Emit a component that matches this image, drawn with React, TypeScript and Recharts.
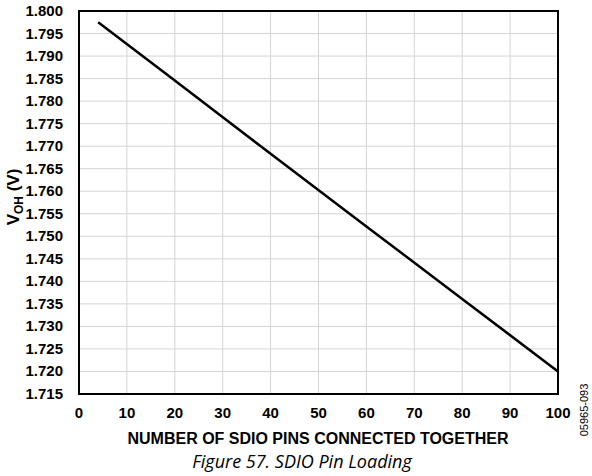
import React from 'react';
import {
  LineChart,
  Line,
  XAxis,
  YAxis,
  CartesianGrid,
  ReferenceArea,
} from 'recharts';

// pins connected together vs VOH
const pinCounts = [4, 20, 40, 60, 80, 100];
const vohValues = [1.7975, 1.7846, 1.7683, 1.7522, 1.7361, 1.72];

const xTicks = [0, 10, 20, 30, 40, 50, 60, 70, 80, 90, 100];
const yTicks = [
  1.715, 1.72, 1.725, 1.73, 1.735, 1.74, 1.745, 1.75, 1.755, 1.76,
  1.765, 1.77, 1.775, 1.78, 1.785, 1.79, 1.795, 1.8,
];

const xTitle = 'NUMBER OF SDIO PINS CONNECTED TOGETHER';
const caption = 'Figure 57. SDIO Pin Loading';
const figureId = '05965-093';

const data = pinCounts.map((n, i) => ({ pins: n, voh: vohValues[i] }));

const FONT = 'Liberation Sans, Arial, sans-serif';

const XTick = ({ x, y, payload }: any) => (
  <text
    x={x}
    y={y + 16}
    textAnchor="middle"
    fontFamily={FONT}
    fontSize={15}
    fontWeight={700}
    fill="#000"
  >
    {payload.value}
  </text>
);

const YTick = ({ x, y, payload }: any) => (
  <text
    x={x - 8}
    y={y + 5}
    textAnchor="end"
    fontFamily={FONT}
    fontSize={15}
    fontWeight={700}
    fill="#000"
  >
    {Number(payload.value).toFixed(3)}
  </text>
);

export default function App() {
  return (
    <div
      style={{
        position: 'absolute',
        left: 0,
        top: 0,
        width: 592,
        height: 476,
        background: '#fff',
        fontFamily: FONT,
      }}
    >
      <LineChart
        width={592}
        height={476}
        data={data}
        margin={{ top: 11, right: 34, bottom: 52, left: 0 }}
      >
        <CartesianGrid stroke="#d4d4d4" strokeWidth={1} />
        <XAxis
          dataKey="pins"
          type="number"
          domain={[0, 100]}
          ticks={xTicks}
          height={30}
          tickLine={false}
          axisLine={{ stroke: '#000', strokeWidth: 2 }}
          tick={<XTick />}
          interval={0}
        />
        <YAxis
          type="number"
          domain={[1.715, 1.8]}
          ticks={yTicks}
          width={79}
          tickLine={false}
          axisLine={{ stroke: '#000', strokeWidth: 2 }}
          tick={<YTick />}
          interval={0}
        />
        <ReferenceArea
          x1={0}
          x2={100}
          y1={1.715}
          y2={1.8}
          fill="none"
          fillOpacity={0}
          stroke="#000"
          strokeWidth={2}
          ifOverflow="visible"
        />
        <Line
          type="linear"
          dataKey="voh"
          stroke="#000"
          strokeWidth={2.5}
          dot={false}
          isAnimationActive={false}
        />
      </LineChart>

      {/* y axis title */}
      <div
        style={{
          position: 'absolute',
          left: 15,
          top: 197,
          transform: 'translate(-50%, -50%) rotate(-90deg)',
          whiteSpace: 'nowrap',
          fontSize: 17,
          fontWeight: 700,
          color: '#000',
        }}
      >
        V<sub style={{ fontSize: 12 }}>OH</sub> (V)
      </div>

      <div
        style={{
          position: 'absolute',
          left: 318,
          top: 439,
          transform: 'translate(-50%, -50%)',
          whiteSpace: 'nowrap',
          fontSize: 16,
          fontWeight: 700,
          color: '#000',
        }}
      >
        {xTitle}
      </div>

      <div
        style={{
          position: 'absolute',
          left: 302,
          top: 461,
          transform: 'translate(-50%, -50%)',
          whiteSpace: 'nowrap',
          fontSize: 18,
          fontStyle: 'italic',
          fontFamily: '"Open Sans", "Noto Sans", sans-serif',
          color: '#000',
        }}
      >
        {caption}
      </div>

      <div
        style={{
          position: 'absolute',
          left: 584,
          top: 410,
          transform: 'translate(-50%, -50%) rotate(-90deg)',
          whiteSpace: 'nowrap',
          fontSize: 11,
          color: '#000',
        }}
      >
        {figureId}
      </div>
    </div>
  );
}
